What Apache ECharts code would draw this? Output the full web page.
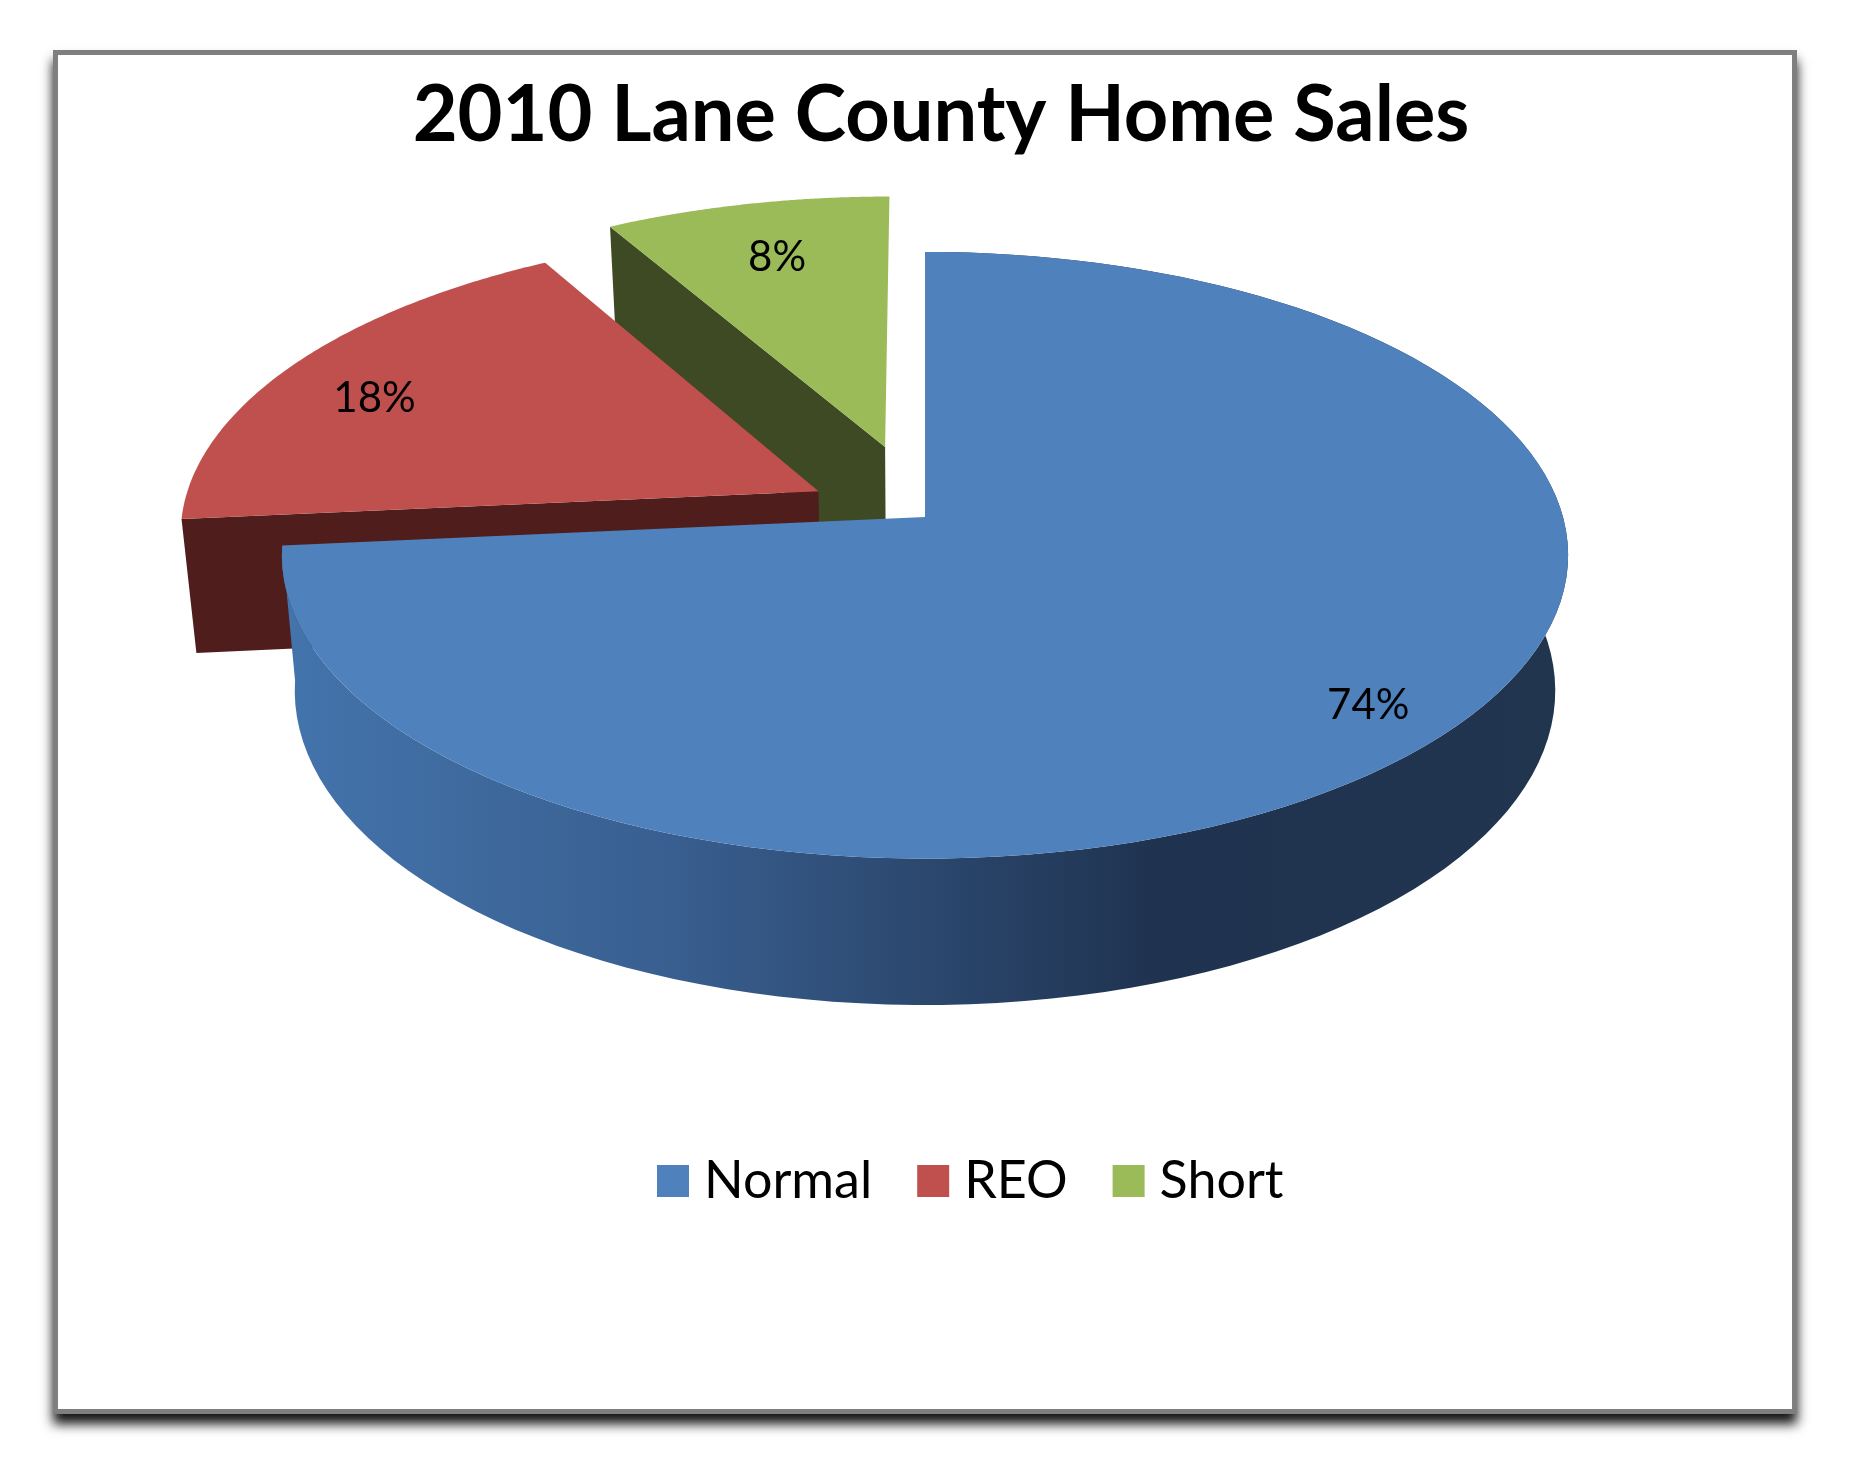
<!DOCTYPE html>
<html><head><meta charset="utf-8">
<style>html,body{margin:0;background:#fff}#c{width:1850px;height:1475px}</style>
<script src="https://cdn.jsdelivr.net/npm/echarts@6/dist/echarts.min.js"></script>
</head><body><div id="c"></div>
<script>
const categories = ['Normal', 'REO', 'Short'];
const shares = [73.5, 18.2, 8.3];
const chartTitle = '2010 Lane County Home Sales';
const topColors = ['#4f81bd', '#c0504d', '#9bbb59'];
const faceColors = ['#20344f', '#4f1e1c', '#3e4a23'];
const explode = [0, 0.19, 0.25];
const labelRadius = [0.87, 0.81, 0.76];
const labelSweep = [0.5, 0.45, 0.5];

const FONT = 'Lato';
const CX = 925, CY = 517, RX = 638, RY = 298.5, P = 0.126, DEPTH = 134, BASE = 0.98;
const total = shares.reduce((a, b) => a + b, 0);
const startOf = i => shares.slice(0, i).reduce((a, b) => a + b, 0) / total * Math.PI * 2;

function project(u, v, low) {
  const w = 1 - P * v, k = low ? BASE : 1;
  return [CX + RX * k * u / w, CY + (RY * k * v + (low ? DEPTH : 0)) / w];
}
function rim(a0, a1, e, mid, low) {
  const pts = [], n = 120;
  for (let j = 0; j <= n; j++) {
    const t = a0 + (a1 - a0) * j / n;
    pts.push(project(Math.sin(mid) * e + Math.sin(t), -Math.cos(mid) * e - Math.cos(t), low));
  }
  return pts;
}
function renderSlice(i) {
  return function (params, api) {
    const a0 = startOf(i), a1 = a0 + api.value(0) / total * Math.PI * 2, mid = (a0 + a1) / 2, e = explode[i];
    const ox = Math.sin(mid) * e, oy = -Math.cos(mid) * e;
    const apexTop = project(ox, oy, false), apexLow = project(ox, oy, true);
    const children = [];
    if (i === 0) {
      const bottom = rim(a0, a1, e, mid, true), top = rim(a0, a1, e, mid, false);
      children.push({ type: 'polygon', shape: { points: bottom.concat(top.reverse()) }, style: {
        fill: new echarts.graphic.LinearGradient(0, 0, 1, 0, [
          { offset: 0, color: '#4374ac' }, { offset: 0.3, color: '#395f90' },
          { offset: 0.68, color: '#1f3350' }, { offset: 1, color: '#22354f' }]) } });
    } else {
      const outerTop = rim(a0, a0, e, mid, false)[0], outerLow = rim(a0, a0, e, mid, true)[0];
      children.push({ type: 'polygon', shape: { points: [apexTop, outerTop, outerLow, apexLow] }, style: { fill: faceColors[i] } });
    }
    children.push({ type: 'polygon', shape: { points: [apexTop].concat(rim(a0, a1, e, mid, false)) }, style: { fill: topColors[i] } });
    const la = a0 + (a1 - a0) * labelSweep[i];
    const lab = project(ox + Math.sin(la) * labelRadius[i], oy - Math.cos(la) * labelRadius[i], false);
    children.push({ type: 'text', x: lab[0], y: lab[1], style: { text: Math.round(api.value(0) / total * 100) + '%',
      font: '42px ' + FONT, fill: '#000', align: 'center', verticalAlign: 'middle' } });
    return { type: 'group', children };
  };
}
const drawOrder = [2, 1, 0];
const chart = echarts.init(document.getElementById('c'), null, { renderer: 'canvas' });
chart.setOption({
  animation: false,
  backgroundColor: '#fff',
  title: { text: chartTitle, left: 936, top: 72, textAlign: 'center',
    textStyle: { fontFamily: FONT, fontWeight: 'bold', fontSize: 77.5, color: '#000' } },
  legend: { data: categories, left: 652, top: 1150, icon: 'rect', itemWidth: 32, itemHeight: 32, itemGap: 45, selectedMode: false,
    textStyle: { fontFamily: FONT, fontSize: 52, color: '#000', padding: [0, 0, 0, 10] } },
  graphic: [
    { type: 'rect', z: -2, shape: { x: 53, y: 50, width: 1744, height: 1364 },
      style: { fill: '#7f7f7f', shadowColor: 'rgba(0,0,0,0.92)', shadowBlur: 11, shadowOffsetY: 10 } },
    { type: 'rect', z: -1, shape: { x: 58, y: 55, width: 1734, height: 1354 }, style: { fill: '#fff' } }
  ],
  series: drawOrder.map(i => ({
    type: 'custom', name: categories[i], coordinateSystem: 'none', silent: true,
    itemStyle: { color: topColors[i] }, data: [shares[i]], renderItem: renderSlice(i), clip: false
  }))
});
</script></body></html>
